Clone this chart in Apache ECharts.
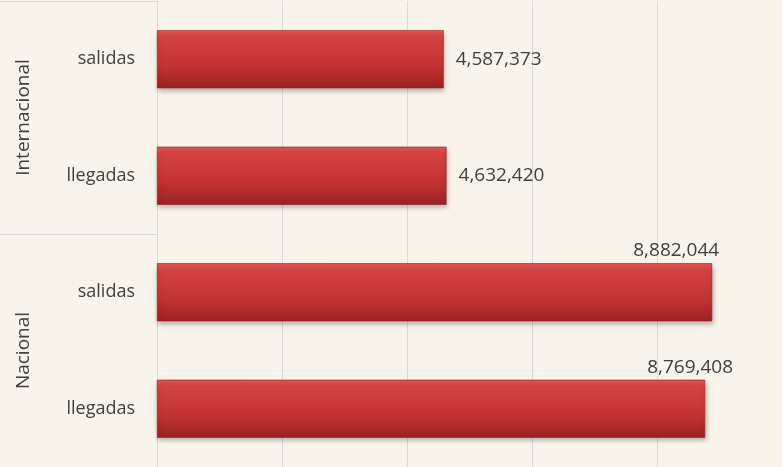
<!DOCTYPE html>
<html>
<head>
<meta charset="utf-8">
<script src="https://cdn.jsdelivr.net/npm/echarts@6/dist/echarts.min.js"></script>
<style>
  html, body { margin: 0; padding: 0; }
  #chart { width: 782px; height: 467px; }
</style>
</head>
<body>
<div id="chart"></div>
<script>
// categories, from bottom to top
const categories = ["llegadas", "salidas", "llegadas", "salidas"];
const groups = ["Nacional", "Internacional"];
const values = [8769408, 8882044, 4632420, 4587373];
// label placement per bar: true = above the bar end
const labelAbove = [true, true, false, false];
const labelShift = [28, 7, 0, 0];

const myChart = echarts.init(document.getElementById("chart"));

const barColor = new echarts.graphic.LinearGradient(0, 0, 0, 1, [
  { offset: 0, color: "#e25a5a" },
  { offset: 0.12, color: "#d44242" },
  { offset: 0.6, color: "#c43333" },
  { offset: 1, color: "#9a2222" },
]);

const barData = values.map((v, i) => {
  const item = { value: v };
  if (labelAbove[i]) {
    item.label = {
      position: ["100%", 0],
      align: "right",
      verticalAlign: "bottom",
      offset: [labelShift[i], -3],
    };
  }
  return item;
});

const fmt = (n) => n.toLocaleString("en-US");

let options = {
  backgroundColor: "#f8f3eb",
  textStyle: { fontFamily: "Open Sans" },
  grid: { left: 157, right: -2, top: 1, bottom: -1 },
  xAxis: {
    type: "value",
    min: 0,
    max: 10000000,
    interval: 2000000,
    axisLabel: { show: false },
    axisLine: { show: false },
    axisTick: { show: false },
    splitLine: { lineStyle: { color: "#d9d9d9", width: 1 } },
  },
  yAxis: [
    {
      type: "category",
      data: categories,
      axisLine: { lineStyle: { color: "#d9d9d9" } },
      axisTick: { show: false },
      axisLabel: { color: "#404040", fontSize: 18, margin: 22 },
    },
    {
      type: "category",
      data: groups,
      position: "left",
      axisLine: { show: false },
      axisTick: { show: true, length: 157, lineStyle: { color: "#d9d9d9" } },
      axisLabel: { color: "#404040", fontSize: 19, rotate: 90, margin: 124 },
    },
  ],
  series: [
    {
      type: "bar",
      data: barData,
      barWidth: 58,
      itemStyle: {
        color: barColor,
        borderColor: "#8e1d1d",
        borderWidth: 0.6,
        shadowBlur: 5,
        shadowOffsetY: 3,
        shadowOffsetX: 1,
        shadowColor: "rgba(0,0,0,0.3)",
      },
      label: {
        show: true,
        position: "right",
        distance: 12,
        color: "#404040",
        fontSize: 19,
        formatter: (p) => fmt(p.value),
      },
    },
  ],
};

myChart.setOption(options);
</script>
</body>
</html>
